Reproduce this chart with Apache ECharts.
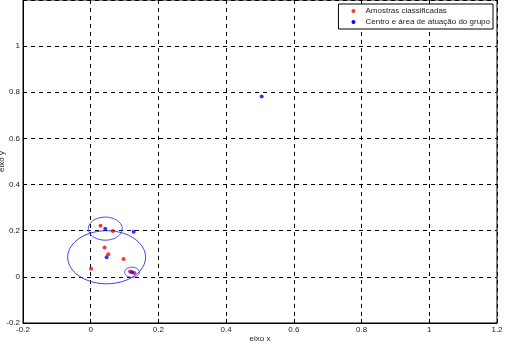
<!DOCTYPE html>
<html><head><meta charset="utf-8">
<script src="https://cdn.jsdelivr.net/npm/echarts@6/dist/echarts.min.js"></script>
<style>html,body{margin:0;padding:0;background:#fff}#c{width:505px;height:347px}</style>
</head><body><div id="c"></div>
<script>
var redX = [0.029, 0.065, 0.041, 0.052, 0.097, 0.001, 0.116, 0.129];
var redY = [0.221, 0.199, 0.127, 0.098, 0.077, 0.035, 0.023, 0.017];
var blueX = [0.043, 0.127, 0.047, 0.122, 0.505];
var blueY = [0.209, 0.196, 0.085, 0.020, 0.782];
var blueR = [0.050, 0.000, 0.115, 0.022, 0.000];
var xTicks = [-0.2, 0, 0.2, 0.4, 0.6, 0.8, 1, 1.2];
var yTicks = [-0.2, 0, 0.2, 0.4, 0.6, 0.8, 1];
var nameRed = 'Amostras classificadas';
var nameBlue = 'Centro e área de atuação do grupo';

var redData = redX.map(function(x,i){return [x, redY[i]];});
var blueData = blueX.map(function(x,i){return [x, blueY[i]];});
var circleData = [];
blueX.forEach(function(x,i){ if (blueR[i] > 0) circleData.push([x, blueY[i], blueR[i]]); });

var font = 'Liberation Sans, Arial, sans-serif';
var chart = echarts.init(document.getElementById('c'), null, {renderer:'canvas'});
function fmt(v){ return String(Math.round(v*10)/10); }
chart.setOption({
  animation:false,
  grid:{left:23, right:8, top:0, bottom:24, containLabel:false, outerBoundsMode:'none',
        show:true, borderColor:'#000', borderWidth:1},
  legend:{
    right:12, top:4, orient:'vertical', itemGap:3,
    borderColor:'#000', borderWidth:1, padding:[3,3,3,13], backgroundColor:'#fff',
    itemWidth:14, itemHeight:4, icon:'circle', symbolKeepAspect:true,
    textStyle:{fontFamily:font, fontSize:8, color:'#222'},
    data:[nameRed, nameBlue]
  },
  xAxis:{
    type:'value', min:-0.2, max:1.2, interval:0.2,
    name:'eixo x', nameLocation:'middle', nameGap:12, nameMoveOverlap:false,
    nameTextStyle:{fontFamily:font, fontSize:8, color:'#222'},
    axisLine:{onZero:false, lineStyle:{color:'#000', width:1}},
    axisTick:{inside:true, length:4, lineStyle:{color:'#000'}},
    axisLabel:{fontFamily:font, fontSize:8, color:'#222', margin:3,
      formatter:function(v){ return xTicks.indexOf(Math.round(v*10)/10) >= 0 ? fmt(v) : ''; }},
    splitLine:{show:true, lineStyle:{color:'#000', type:[4,4], width:1}}
  },
  yAxis:{
    type:'value', min:-0.2, max:1.2, interval:0.2,
    name:'eixo y', nameLocation:'middle', nameGap:17, nameMoveOverlap:false,
    nameTextStyle:{fontFamily:font, fontSize:8, color:'#222'},
    axisLine:{onZero:false, lineStyle:{color:'#000', width:1}},
    axisTick:{inside:true, length:4, lineStyle:{color:'#000'}},
    axisLabel:{fontFamily:font, fontSize:8, color:'#222', margin:3,
      formatter:function(v){ return yTicks.indexOf(Math.round(v*10)/10) >= 0 ? fmt(v) : ''; }},
    splitLine:{show:true, lineStyle:{color:'#000', type:[4,4], width:1}}
  },
  series:[
    {type:'custom', name:nameBlue, data:circleData, silent:true, z:1,
     itemStyle:{color:'#0000ff'},
     renderItem:function(params, api){
       var c = api.coord([api.value(0), api.value(1)]);
       var s = api.size([api.value(2), api.value(2)]);
       var pts = [];
       for (var k=0;k<=96;k++){ var a = k/96*Math.PI*2; pts.push([c[0]+s[0]*Math.cos(a), c[1]+s[1]*Math.sin(a)]); }
       return {type:'polyline', shape:{points:pts}, style:{stroke:'#3a3af0', lineWidth:1, fill:null}};
     }},
    {type:'scatter', name:nameRed, data:redData, symbol:'circle', symbolSize:4,
     itemStyle:{color:'#ff0000'}, z:3},
    {type:'scatter', name:nameBlue, data:blueData, symbol:'circle', symbolSize:4,
     itemStyle:{color:'#0000ff'}, z:4}
  ]
});
</script></body></html>
